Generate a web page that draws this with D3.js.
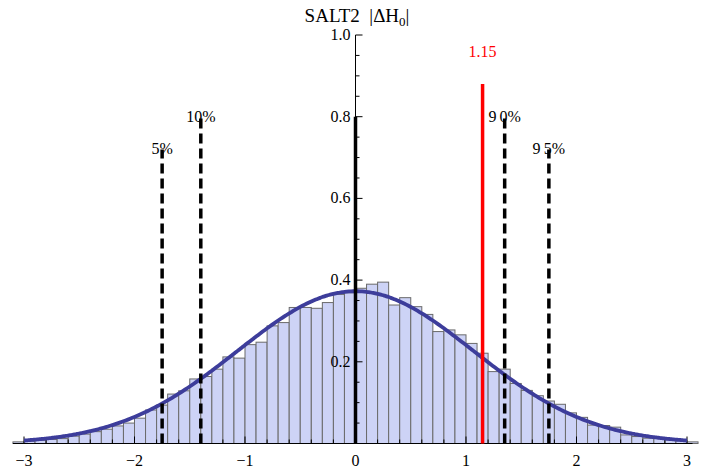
<!DOCTYPE html>
<html><head><meta charset="utf-8">
<script src="https://cdn.jsdelivr.net/npm/d3@7"></script>
<style>body{margin:0;background:#fff}svg{display:block}</style>
</head><body><svg id="c" width="717" height="476" font-family="'Liberation Serif', 'DejaVu Serif', serif"></svg>
<script>
// histogram bins: left edges (step 0.1) and heights
const binWidth = 0.1;
const binStarts = d3.range(62).map(i => +(-3.1 + i * 0.1).toFixed(1));
const binValues = [
  0.004,0.006,0.008,0.010,0.012,0.018,0.023,0.029,0.035,0.043,
  0.050,0.062,0.082,0.094,0.121,0.129,0.158,0.164,0.182,0.212,
  0.209,0.242,0.248,0.288,0.296,0.333,0.333,0.331,0.345,0.365,
  0.369,0.380,0.390,0.395,0.339,0.357,0.335,0.316,0.274,0.278,
  0.266,0.245,0.221,0.176,0.182,0.147,0.130,0.117,0.104,0.096,
  0.075,0.064,0.045,0.044,0.040,0.021,0.017,0.013,0.015,0.009,
  0.007,0.004];
// fitted normal curve parameters
const fitMean = 0.0;
const fitSigma = 1.07;
const curveRange = [-3, 3];
// percentile markers
const pctLabels = ["5%", "10%", "9\u20090%", "9\u20095%"];
const pctValues = [-1.75, -1.40, 1.35, 1.75];
const pctHeights = [0.72, 0.80, 0.80, 0.72];
// observed value
const obsValue = 1.15;
const obsHeight = 0.88;
const obsLabel = "1.15";
const obsLabelY = 0.96;
// centre line
const centreValue = 0;
const centreHeight = 0.80;
// axis ticks
const xTicks = [-3, -2, -1, 0, 1, 2, 3];
const xMinorTicks = d3.range(-15, 16).map(i => +(i * 0.2).toFixed(1));
const yTicks = [0.2, 0.4, 0.6, 0.8, 1.0];
const yMinorTicks = d3.range(1, 21).map(i => +(i * 0.05).toFixed(2));

const svg = d3.select("#c");
const x = d3.scaleLinear().domain([-3, 3]).range([24, 687]);
const y = d3.scaleLinear().domain([0, 1]).range([443.5, 35]);

// bars
svg.append("g").selectAll("rect").data(binStarts).join("rect")
  .attr("x", d => x(d)).attr("width", d => x(d + binWidth) - x(d))
  .attr("y", (d, i) => y(binValues[i])).attr("height", (d, i) => y(0) - y(binValues[i]))
  .attr("fill", "#cdd3f6").attr("stroke", "#6a6a6a").attr("stroke-width", 1);

// x axis
const xg = svg.append("g");
xg.append("line").attr("x1", x(-3.1)).attr("x2", x(3.05)).attr("y1", y(0)).attr("y2", y(0))
  .attr("stroke", "#000").attr("stroke-width", 1);
xg.selectAll("line.mn").data(xMinorTicks).join("line").attr("class", "mn")
  .attr("x1", d => x(d)).attr("x2", d => x(d)).attr("y1", y(0)).attr("y2", d => y(0) - (Number.isInteger(d) ? 7 : 4))
  .attr("stroke", "#000").attr("stroke-width", 1);
xg.selectAll("text").data(xTicks).join("text")
  .attr("x", d => x(d)).attr("y", 466).attr("text-anchor", "middle")
  .attr("font-size", 16).text(d => d < 0 ? "\u2212" + Math.abs(d) : d);

// fitted curve
const curvePts = d3.range(curveRange[0], curveRange[1] + 0.0001, 0.02);
const pdf = v => Math.exp(-0.5 * ((v - fitMean) / fitSigma) ** 2) / (fitSigma * Math.sqrt(2 * Math.PI));
svg.append("path").datum(curvePts)
  .attr("d", d3.line().x(d => x(d)).y(d => y(pdf(d))).curve(d3.curveBasis))
  .attr("fill", "none").attr("stroke", "#3d3d9b").attr("stroke-width", 3.8);

// y axis
const yg = svg.append("g");
yg.append("line").attr("x1", x(0)).attr("x2", x(0)).attr("y1", y(0)).attr("y2", y(1))
  .attr("stroke", "#000").attr("stroke-width", 1);
yg.selectAll("line.t").data(yMinorTicks).join("line").attr("class", "t")
  .attr("x1", x(0)).attr("x2", d => x(0) + (Math.abs(d * 5 - Math.round(d * 5)) < 1e-6 ? 7 : 4))
  .attr("y1", d => y(d)).attr("y2", d => y(d)).attr("stroke", "#000").attr("stroke-width", 1);

// centre line
svg.append("line").attr("x1", x(centreValue)).attr("x2", x(centreValue))
  .attr("y1", y(0)).attr("y2", y(centreHeight)).attr("stroke", "#000").attr("stroke-width", 3.5);

// percentile lines
pctValues.forEach((v, i) => {
  svg.append("line").attr("x1", x(v)).attr("x2", x(v)).attr("y1", y(0)).attr("y2", y(pctHeights[i]))
    .attr("stroke", "#000").attr("stroke-width", 3.5).attr("stroke-dasharray", "10,5");
});
pctValues.forEach((v, i) => {
  svg.append("text").attr("x", x(v)).attr("y", y(pctHeights[i]) + 5).attr("text-anchor", "middle")
    .attr("font-size", 16).text(pctLabels[i]);
});

// observed line
svg.append("line").attr("x1", x(obsValue)).attr("x2", x(obsValue)).attr("y1", y(0)).attr("y2", y(obsHeight))
  .attr("stroke", "#ff0000").attr("stroke-width", 3.5);
svg.append("text").attr("x", x(obsValue)).attr("y", y(obsLabelY) + 6).attr("text-anchor", "middle")
  .attr("font-size", 16).attr("fill", "#ff0000").text(obsLabel);

// y labels
yg.selectAll("text").data(yTicks).join("text")
  .attr("x", x(0) - 5).attr("y", d => y(d) + 5).attr("text-anchor", "end")
  .attr("font-size", 16).text(d => d.toFixed(1));

// title
const t = svg.append("text").attr("x", 357).attr("y", 22).attr("text-anchor", "middle").attr("font-size", 19);
t.append("tspan").text("SALT2\u00a0\u00a0|\u0394H");
t.append("tspan").attr("font-size", 13).attr("dy", 4).text("0");
t.append("tspan").attr("dy", -4).text("|");
</script></body></html>
